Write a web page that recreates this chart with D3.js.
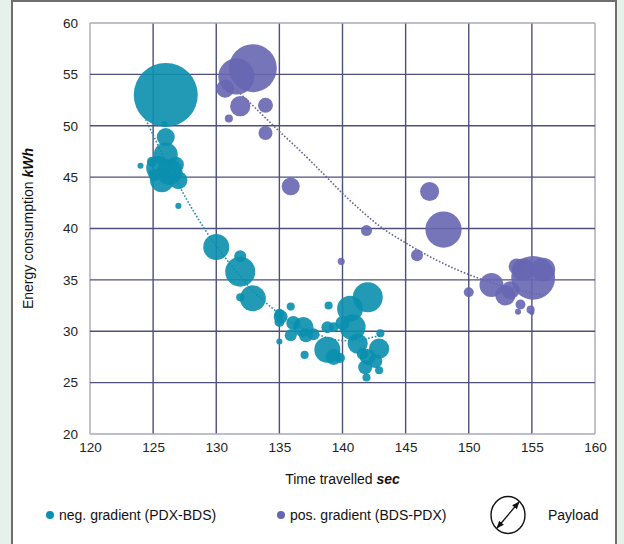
<!DOCTYPE html>
<html>
<head>
<meta charset="utf-8">
<script src="https://cdn.jsdelivr.net/npm/d3@7"></script>
<style>
  html, body { margin: 0; padding: 0; background: #e5f1ea; }
  svg { display: block; font-family: "Liberation Sans", Arial, sans-serif; }
</style>
</head>
<body>
<svg id="chart" width="624" height="544"></svg>
<script>
// Axis ticks
const xTicks = [120, 125, 130, 135, 140, 145, 150, 155, 160];
const yTicks = [20, 25, 30, 35, 40, 45, 50, 55, 60];

// Negative gradient runs (PDX-BDS): time [sec], energy [kWh], payload (relative)
const negTime = [126.0, 125.9, 126.0, 124.0, 126.0, 125.4, 126.3, 125.7, 126.8, 127.0, 124.9, 125.1,
  127.0, 130.0, 131.9, 131.9, 132.9, 131.9, 135.0, 135.0, 135.0, 135.9, 136.1, 136.9, 135.9, 137.1,
  137.7, 137.0, 138.8, 139.3, 138.9, 138.8, 139.8, 142.0, 140.6, 140.8, 141.2, 142.0, 141.8, 141.9,
  142.9, 143.0, 142.9, 142.6, 140.0, 141.6, 139.3, 135.1];
const negEnergy = [53.0, 50.2, 48.9, 46.1, 47.2, 45.9, 45.5, 44.7, 46.2, 44.7, 46.5, 45.2,
  42.2, 38.2, 37.3, 35.8, 33.2, 33.3, 31.7, 30.9, 29.0, 32.4, 30.8, 30.4, 29.6, 29.6,
  29.7, 27.7, 28.2, 27.5, 32.5, 30.4, 27.4, 33.3, 32.2, 30.4, 28.8, 27.5, 26.5, 25.5,
  28.3, 29.8, 26.2, 27.1, 30.8, 27.8, 30.4, 31.4];
const negPayload = [100, 0.9, 7.9, 0.9, 14, 14, 16.5, 14, 6.3, 7.9, 2.4, 3.5,
  0.9, 16.5, 3.5, 22, 16.5, 1.6, 2.4, 2.4, 0.9, 1.6, 4.8, 10, 3.5, 4.8,
  3.5, 1.6, 16.5, 6.3, 1.6, 3.5, 2.4, 22, 16.5, 16.5, 10, 6.3, 4.8, 1.6,
  10, 1.6, 1.6, 4.8, 4.8, 3.5, 2.4, 4.8];

// Positive gradient runs (BDS-PDX)
const posTime = [132.9, 131.6, 130.7, 131.9, 133.9, 131.0, 133.9, 135.9, 146.9, 148.0, 141.9, 139.9,
  145.9, 150.0, 151.8, 152.9, 155.1, 154.3, 153.9, 154.1, 154.9, 153.3, 155.9, 153.8, 155.0];
const posEnergy = [55.6, 54.8, 53.6, 51.9, 52.0, 50.7, 49.3, 44.1, 43.6, 39.9, 39.8, 36.8,
  37.4, 33.8, 34.5, 33.5, 35.2, 36.0, 31.9, 32.6, 32.1, 34.0, 36.0, 36.3, 31.8];
const posPayload = [56, 32, 7.9, 10, 5.5, 1.6, 4.8, 7.9, 8.8, 32, 3, 1.2,
  3.5, 2.4, 14, 10, 47, 12, 0.9, 2.4, 1.6, 7.9, 14, 6.3, 0.6];

// Trendlines (dotted)
const negTrendTime = [124.3, 125, 126, 127, 128, 129, 130, 131, 132, 133, 134, 135, 136, 137, 138, 139, 140, 141, 142, 143];
const negTrendEnergy = [50.9, 49.1, 46.6, 44.3, 42.1, 40.1, 38.3, 36.7, 35.2, 33.8, 32.7, 31.7, 30.8, 30.2, 29.7, 29.3, 29.1, 29.1, 29.3, 29.6];
const posTrendTime = [130.7, 132.7, 134.7, 136.7, 138.5, 140.1, 141.7, 143.2, 145.0, 146.7, 148.5, 150.9, 153.0, 155.9];
const posTrendEnergy = [54.5, 52.2, 49.8, 47.5, 45.3, 43.3, 41.5, 40.0, 38.6, 37.4, 36.3, 35.1, 34.3, 33.5];

const negColor = "#0a8fae";
const posColor = "#6766b2";

const svg = d3.select("#chart");

// White panel
svg.append("rect")
  .attr("x", 12).attr("y", 1)
  .attr("width", 604).attr("height", 560)
  .attr("fill", "#ffffff")
  .attr("stroke", "#6f6f6f").attr("stroke-width", 2);

const x = d3.scaleLinear().domain([120, 160]).range([90, 595]);
const y = d3.scaleLinear().domain([20, 60]).range([434, 23]);
const r = d3.scaleSqrt().domain([0, 100]).range([0, 32]);

// Grid
const grid = svg.append("g");
grid.selectAll("line.v").data(xTicks).join("line")
  .attr("x1", d => x(d)).attr("x2", d => x(d))
  .attr("y1", y(20)).attr("y2", y(60))
  .attr("stroke", (d, i) => (i === 0 || i === xTicks.length - 1) ? "#a8a8bc" : "#4f4f7c")
  .attr("stroke-width", 1.4);
grid.selectAll("line.h").data(yTicks).join("line")
  .attr("y1", d => y(d)).attr("y2", d => y(d))
  .attr("x1", x(120)).attr("x2", x(160))
  .attr("stroke", (d, i) => (i === 0 || i === yTicks.length - 1) ? "#a8a8bc" : "#4f4f7c")
  .attr("stroke-width", 1.4);

// Axes (labels only)
const xAxis = svg.append("g")
  .attr("transform", `translate(0,${y(20) + 8})`)
  .call(d3.axisBottom(x).tickValues(xTicks).tickSize(0).tickPadding(0));
xAxis.select(".domain").remove();
xAxis.selectAll("text").attr("font-size", 13.5).attr("fill", "#222").attr("font-family", "Liberation Sans, Arial, sans-serif");

const yAxis = svg.append("g")
  .attr("transform", `translate(${x(120) - 12},0)`)
  .call(d3.axisLeft(y).tickValues(yTicks).tickSize(0).tickPadding(0));
yAxis.select(".domain").remove();
yAxis.selectAll("text").attr("font-size", 13.5).attr("fill", "#222").attr("font-family", "Liberation Sans, Arial, sans-serif");

// Axis titles
const xt = svg.append("text")
  .attr("x", (x(120) + x(160)) / 2).attr("y", 484)
  .attr("text-anchor", "middle").attr("font-size", 14).attr("fill", "#111");
xt.append("tspan").text("Time travelled ");
xt.append("tspan").text("sec").attr("font-weight", "bold").attr("font-style", "italic");

const yt = svg.append("text")
  .attr("transform", `translate(33,${(y(20) + y(60)) / 2}) rotate(-90)`)
  .attr("text-anchor", "middle").attr("font-size", 14).attr("fill", "#111");
yt.append("tspan").text("Energy consumption ");
yt.append("tspan").text("kWh").attr("font-weight", "bold").attr("font-style", "italic");

// Trendlines
const line = d3.line().x(d => x(d[0])).y(d => y(d[1])).curve(d3.curveCatmullRom);
svg.append("path")
  .datum(d3.zip(negTrendTime, negTrendEnergy))
  .attr("d", line).attr("fill", "none")
  .attr("stroke", "#2a8ca6").attr("stroke-width", 1.6).attr("stroke-dasharray", "1.6,1.8");
svg.append("path")
  .datum(d3.zip(posTrendTime, posTrendEnergy))
  .attr("d", line).attr("fill", "none")
  .attr("stroke", "#6c6499").attr("stroke-width", 1.6).attr("stroke-dasharray", "1.6,1.8");

// Bubbles
const negData = negTime.map((t, i) => ({ t, e: negEnergy[i], p: negPayload[i] }));
const posData = posTime.map((t, i) => ({ t, e: posEnergy[i], p: posPayload[i] }));

svg.append("g").selectAll("circle").data(negData).join("circle")
  .attr("cx", d => x(d.t)).attr("cy", d => y(d.e)).attr("r", d => r(d.p))
  .attr("fill", negColor).attr("fill-opacity", 0.9);

svg.append("g").selectAll("circle").data(posData).join("circle")
  .attr("cx", d => x(d.t)).attr("cy", d => y(d.e)).attr("r", d => r(d.p))
  .attr("fill", posColor).attr("fill-opacity", 0.9);

// Legend
const legY = 516;
const leg = svg.append("g").attr("font-size", 14).attr("fill", "#111");
leg.append("circle").attr("cx", 50).attr("cy", legY - 1).attr("r", 4).attr("fill", negColor);
leg.append("text").attr("x", 59).attr("y", legY + 4).text("neg. gradient (PDX-BDS)");
leg.append("circle").attr("cx", 281).attr("cy", legY - 1).attr("r", 4).attr("fill", posColor);
leg.append("text").attr("x", 290).attr("y", legY + 4).text("pos. gradient (BDS-PDX)");

// Payload key: circle with a double-headed diameter arrow
const kx = 508, ky = 515;
leg.append("ellipse").attr("cx", kx).attr("cy", ky).attr("rx", 17).attr("ry", 18.5)
  .attr("fill", "none").attr("stroke", "#111").attr("stroke-width", 1.4);
const defs = svg.append("defs");
defs.append("marker").attr("id", "ah").attr("viewBox", "0 0 10 10")
  .attr("refX", 9).attr("refY", 5).attr("markerWidth", 6).attr("markerHeight", 6)
  .attr("orient", "auto-start-reverse")
  .append("path").attr("d", "M0,1 L10,5 L0,9 z").attr("fill", "#111");
leg.append("line")
  .attr("x1", kx - 11).attr("y1", ky + 13).attr("x2", kx + 11).attr("y2", ky - 13)
  .attr("stroke", "#111").attr("stroke-width", 1.3)
  .attr("marker-start", "url(#ah)").attr("marker-end", "url(#ah)");
leg.append("text").attr("x", 548).attr("y", legY + 4).text("Payload");
</script>
</body>
</html>
